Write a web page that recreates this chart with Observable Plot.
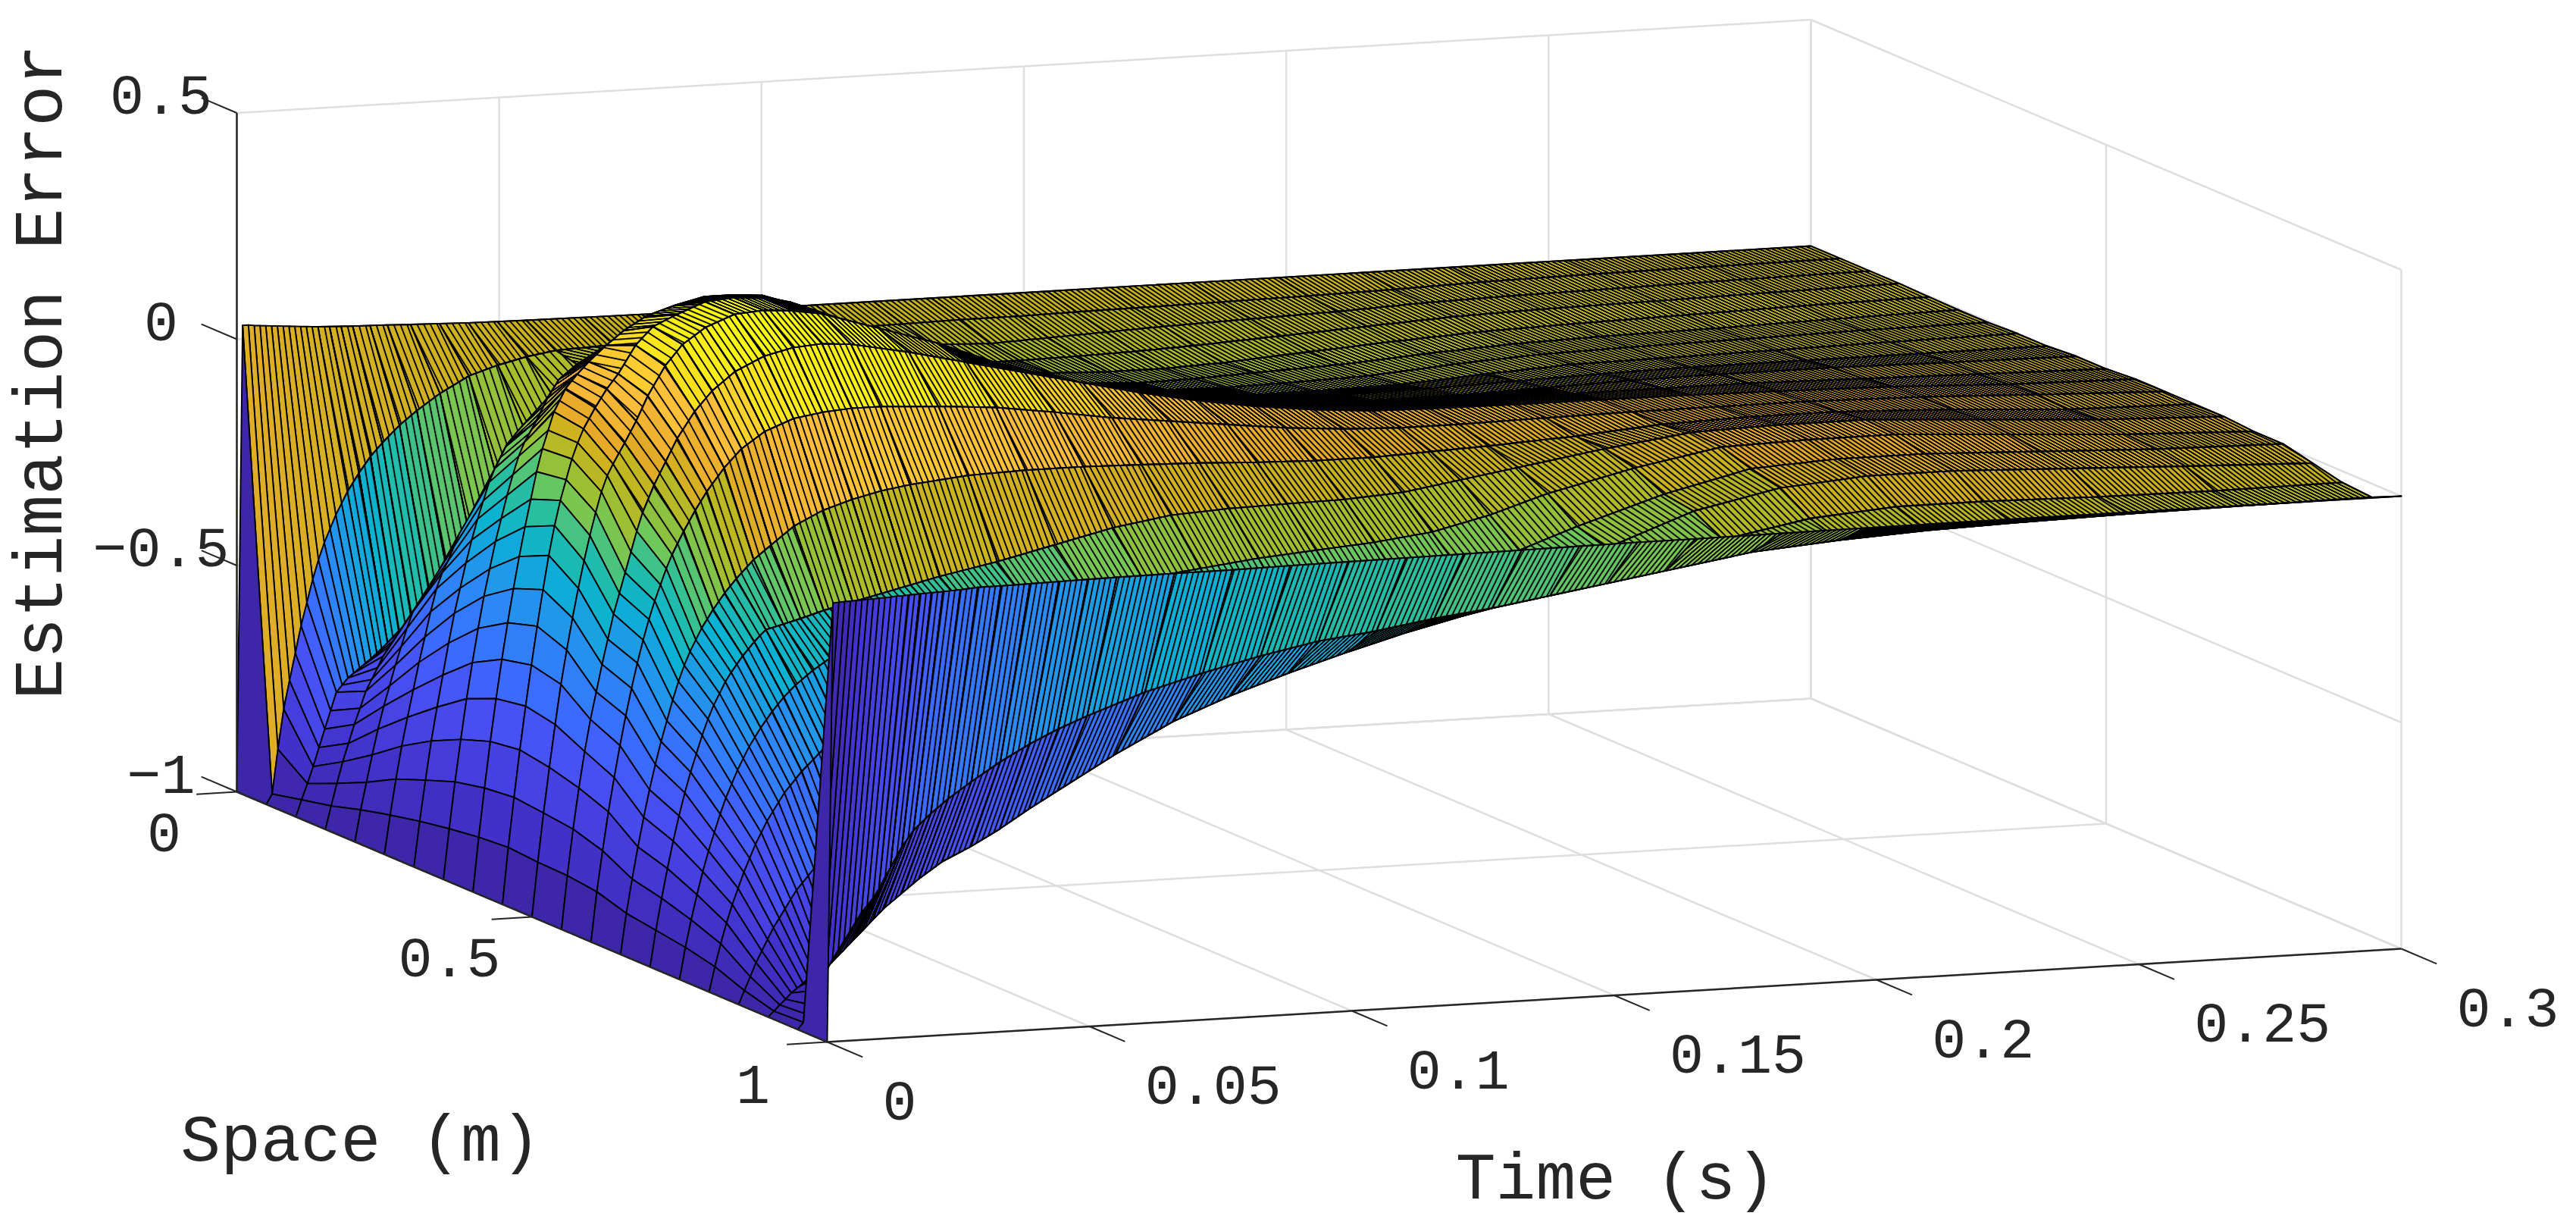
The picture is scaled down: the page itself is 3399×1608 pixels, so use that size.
<!DOCTYPE html>
<html>
<head>
<meta charset="utf-8">
<style>html,body{margin:0;padding:0;background:#fff;overflow:hidden}svg{display:block}</style>
<script src="https://cdn.jsdelivr.net/npm/d3@7"></script>
<script src="https://cdn.jsdelivr.net/npm/@observablehq/plot@0.6"></script>
</head>
<body>
<script>
// Mesh rows: solver step number of each stored time row (one step = 0.0011 s)
const timeSteps = [0,1,2,3,4,5,6,7,8,9,10,11,12,13,14,16,18,20,23,26,30,35,40,45,50,60,70,80,90,100,110,120,130,140,150,165,180,195,210,230,250,272];
const spaceNodes = [0,.05,.1,.15,.2,.25,.3,.35,.4,.45,.5,.55,.6,.65,.7,.75,.8,.85,.9,.95,1];
const stepSeconds = 0.3 / 272;

// Surface height above the floor (estimation error + 1), one list per space node
const h000 = [0,1.03,1.03,1.028,1.027,1.026,1.025,1.024,1.023,1.022,1.021,1.02,1.019,1.018,1.017,1.016,1.015,1.014,1.013,1.012,1.01,1.008,1.006,1.005,1.004,1.003,1.002,1.001,1,1,1,1,1,1,1,1,1,1,1,1,1,1];
const h005 = [0,.022,.12,.208,.27,.33,.39,.44,.49,.533,.57,.6,.63,.655,.68,.72,.755,.783,.82,.85,.885,.92,.94,.955,.965,.97,.975,.975,.975,.977,.978,.98,.98,.982,.983,.985,.987,.99,.995,.998,.999,1];
const h010 = [0,.037,.072,.109,.15,.19,.23,.27,.285,.3,.31,.32,.33,.34,.35,.36,.38,.42,.48,.53,.6,.71,.81,.885,.95,1.01,1.04,1.02,.995,.975,.96,.955,.96,.965,.97,.975,.98,.988,.992,.995,.998,1];
const h015 = [0,.051,.1,.147,.187,.228,.263,.3,.325,.35,.375,.395,.41,.43,.445,.47,.5,.53,.575,.63,.69,.8,.89,.95,1,1.05,1.07,1.05,1.005,.97,.945,.945,.947,.95,.955,.965,.975,.985,.99,.993,.997,1];
const h020 = [0,.07,.13,.19,.246,.296,.34,.385,.425,.465,.5,.52,.54,.555,.57,.6,.63,.67,.72,.77,.85,.93,1.02,1.06,1.09,1.11,1.11,1.07,1.02,.985,.96,.945,.94,.94,.945,.958,.97,.98,.985,.99,.995,.998];
const h025 = [0,.086,.165,.237,.3,.36,.42,.475,.53,.58,.615,.64,.67,.7,.72,.76,.8,.84,.89,.93,.97,1.04,1.09,1.12,1.14,1.17,1.14,1.08,1.03,1,.97,.95,.943,.945,.95,.957,.97,.98,.985,.988,.993,.997];
const h030 = [0,.1,.19,.276,.35,.42,.49,.555,.61,.665,.715,.76,.8,.84,.87,.92,.95,.96,.99,1.03,1.08,1.13,1.16,1.18,1.2,1.215,1.16,1.1,1.05,1.02,.985,.965,.955,.953,.955,.96,.975,.985,.989,.992,.996,.997];
const h035 = [0,.111,.214,.307,.396,.475,.55,.62,.68,.74,.79,.84,.885,.925,.955,1,1.05,1.09,1.12,1.135,1.16,1.19,1.21,1.225,1.235,1.23,1.18,1.12,1.075,1.03,1,.98,.97,.965,.965,.968,.98,.99,.992,.995,.998,1];
const h040 = [0,.12,.228,.33,.424,.51,.59,.665,.735,.8,.86,.92,.97,1.01,1.05,1.1,1.13,1.156,1.19,1.22,1.25,1.27,1.285,1.285,1.28,1.23,1.18,1.13,1.09,1.05,1.02,1,.99,.985,.985,.987,.992,.997,1,1,1,1];
const h045 = [0,.125,.235,.339,.435,.525,.61,.69,.765,.83,.885,.93,.975,1.01,1.04,1.085,1.125,1.157,1.218,1.257,1.28,1.305,1.31,1.305,1.29,1.24,1.19,1.145,1.105,1.07,1.04,1.02,1.005,1,1,1,1.005,1.01,1.012,1.012,1.008,1.005];
const h050 = [0,.12,.228,.328,.422,.51,.585,.655,.72,.78,.835,.885,.93,.965,.99,1.035,1.082,1.136,1.2,1.245,1.28,1.305,1.31,1.305,1.295,1.255,1.215,1.165,1.125,1.09,1.065,1.05,1.03,1.015,1.018,1.02,1.02,1.02,1.02,1.015,1.01,1.005];
const h055 = [0,.118,.22,.31,.39,.46,.52,.58,.635,.69,.735,.78,.825,.87,.91,.97,1.02,1.07,1.127,1.17,1.21,1.24,1.255,1.26,1.255,1.23,1.2,1.17,1.14,1.11,1.085,1.065,1.05,1.04,1.037,1.035,1.034,1.033,1.03,1.025,1.015,1.01];
const h060 = [0,.11,.2,.285,.36,.43,.495,.555,.61,.66,.705,.745,.78,.815,.845,.895,.94,.98,1.03,1.07,1.105,1.13,1.14,1.145,1.145,1.138,1.128,1.11,1.09,1.075,1.06,1.045,1.035,1.03,1.03,1.033,1.035,1.035,1.035,1.03,1.02,1.01];
const h065 = [0,.09,.165,.235,.3,.36,.415,.465,.51,.555,.595,.63,.66,.685,.71,.75,.785,.815,.855,.885,.924,.955,.975,.99,1,1.013,1.017,1.017,1.014,1.01,1.004,1,1,1.005,1.01,1.02,1.035,1.04,1.04,1.03,1.015,1.01];
const h070 = [0,.08,.15,.215,.275,.33,.38,.425,.465,.505,.54,.57,.595,.62,.64,.675,.705,.73,.74,.75,.765,.78,.795,.81,.825,.85,.88,.91,.93,.937,.94,.942,.95,.97,.99,1.02,1.045,1.05,1.05,1.035,1.02,1.01];
const h075 = [0,.07,.13,.185,.235,.28,.32,.36,.395,.425,.455,.48,.505,.525,.545,.58,.61,.635,.665,.69,.71,.735,.75,.765,.775,.79,.805,.825,.84,.855,.865,.875,.89,.92,.96,1.005,1.04,1.045,1.045,1.03,1.015,1.005];
const h080 = [0,.055,.105,.15,.19,.225,.26,.29,.32,.345,.37,.39,.41,.43,.445,.475,.5,.525,.555,.58,.605,.63,.65,.665,.68,.7,.72,.74,.755,.77,.785,.805,.83,.87,.915,.975,1.02,1.03,1.03,1.02,1.01,1.005];
const h085 = [0,.03,.06,.09,.115,.14,.165,.185,.205,.225,.245,.26,.275,.29,.305,.33,.355,.38,.405,.43,.465,.495,.52,.54,.56,.6,.635,.66,.68,.7,.725,.76,.8,.85,.895,.965,1.005,1.02,1.02,1.01,1,.99];
const h090 = [0,.012,.025,.037,.05,.06,.07,.08,.088,.094,.1,.112,.125,.137,.15,.175,.2,.225,.255,.285,.32,.35,.385,.425,.462,.535,.6,.65,.692,.73,.765,.795,.824,.855,.885,.93,.965,.98,.98,.975,.973,.975];
const h095 = [0,.015,.03,.05,.085,.127,.15,.17,.19,.21,.23,.25,.265,.28,.3,.345,.39,.425,.46,.49,.525,.565,.6,.63,.655,.7,.735,.765,.79,.805,.825,.84,.86,.88,.9,.93,.945,.955,.96,.965,.968,.97];
const h100 = [0,.969,.97,.971,.971,.972,.972,.973,.973,.974,.974,.975,.976,.976,.977,.978,.979,.98,.982,.985,.985,.986,.987,.988,.989,.99,.99,.992,.993,.994,.995,.996,.997,.998,.998,.999,1,1,1,1,1,1];
const heights = [h000,h005,h010,h015,h020,h025,h030,h035,h040,h045,h050,h055,h060,h065,h070,h075,h080,h085,h090,h095,h100];

// Axes
const timeTicks = [0,.05,.1,.15,.2,.25,.3];
const timeLabels = ["0","0.05","0.1","0.15","0.2","0.25","0.3"];
const spaceTicks = [0,.5,1];
const spaceLabels = ["0","0.5","1"];
const errorTicks = [-1,-.5,0,.5];
const errorLabels = ["\u22121","\u22120.5","0","0.5"];

// Colour scale
const colorErrors = [-1,-.88,-.77,-.67,-.58,-.45,-.35,-.29,-.2,-.13,-.06,0,.04,.13,.2,.3];
const colorStops = ["#3e26a8","#4230c8","#4642e1","#4852f4","#3c69ff","#2d87f7","#19a0e1","#0ab2d4","#28bea0","#6ec85a","#a5be2d","#c8b41e","#e6aa28","#fdbe3c","#fae11e","#f9fb14"];

// Orthographic view of the MATLAB axes box: pixels per data unit
const X = (t, s) => 312 + 779 * s + 6923.3 * t;
const Y = (t, s, z) => 1044 + 330 * s - 410 * t - 597 * (z + 1);

const color = Plot.scale({color: {type: "linear", domain: colorErrors, range: colorStops, interpolate: "rgb", clamp: true}});
const times = timeSteps.map(n => n * stepSeconds);

// Surface quads, far to near (painter's order)
const lineWidth = 1.9;
const vertices = [];
const hatches = [];
let quadId = 0;
for (let i = timeSteps.length - 2; i >= 0; --i) {
  for (let j = 0; j < spaceNodes.length - 1; ++j) {
    const corners = [[i, j], [i, j + 1], [i + 1, j + 1], [i + 1, j]].map(([a, b]) => ({
      x: X(times[a], spaceNodes[b]),
      y: Y(times[a], spaceNodes[b], heights[b][a] - 1)
    }));
    const fill = color.apply(heights[j][i] - 1);
    const id = quadId++;
    for (const c of corners) vertices.push({...c, id, fill});
    const substeps = timeSteps[i + 1] - timeSteps[i];
    if (substeps > 1) {
      const [a, b, c, d] = corners;
      const ux = ((b.x - a.x) + (c.x - d.x)) / 2, uy = ((b.y - a.y) + (c.y - d.y)) / 2;
      const vx = ((d.x - a.x) + (c.x - b.x)) / 2 / substeps, vy = ((d.y - a.y) + (c.y - b.y)) / 2 / substeps;
      const perp = Math.abs(ux * vy - uy * vx) / Math.hypot(ux, uy);
      const share = Math.min(1, lineWidth / Math.max(perp, 1e-6));
      const name = "mesh" + id;
      hatches.push({name, ux, uy, vx, vy, ox: a.x, oy: a.y, share});
      const hid = quadId++;
      for (const q of corners) vertices.push({...q, id: hid, fill: `url(#${name})`});
    }
  }
}

const link = (rows) => Plot.link(rows, {x1: d => X(d[0], d[1]), y1: d => Y(d[0], d[1], d[2]), x2: d => X(d[3], d[4]), y2: d => Y(d[3], d[4], d[5]), stroke: "#dedede", strokeWidth: 2.5});
const axisLink = (rows, w) => Plot.link(rows, {x1: d => X(d[0], d[1]), y1: d => Y(d[0], d[1], d[2]), x2: d => X(d[3], d[4]), y2: d => Y(d[3], d[4], d[5]), stroke: "#262626", strokeWidth: w});

const font = {fontFamily: "'Liberation Mono', monospace", fill: "#262626"};

const chart = Plot.plot({
  width: 3399, height: 1608, margin: 0,
  x: {domain: [0, 3399], range: [0, 3399], axis: null},
  y: {domain: [0, 1608], range: [0, 1608], axis: null},
  marks: [
    link([
      ...timeTicks.map(t => [t, 0, -1, t, 0, .5]),
      ...errorTicks.map(z => [0, 0, z, .3, 0, z]),
      ...spaceTicks.map(s => [.3, s, -1, .3, s, .5]),
      ...errorTicks.map(z => [.3, 0, z, .3, 1, z]),
      ...timeTicks.map(t => [t, 0, -1, t, 1, -1]),
      ...spaceTicks.map(s => [0, s, -1, .3, s, -1])
    ]),
    Plot.line(vertices, {x: "x", y: "y", z: "id", fill: {value: d => d.fill, scale: null}, stroke: "black", strokeWidth: lineWidth, strokeLinejoin: "round", curve: "linear-closed"}),
    axisLink([[0, 0, -1, 0, 0, .5], [0, 0, -1, 0, 1, -1], [0, 1, -1, .3, 1, -1]], 2.5),
    axisLink([
      ...timeTicks.map(t => [t, 1, -1, t, 1.06, -1]),
      ...spaceTicks.map(s => [0, s, -1, -.0077, s, -1]),
      ...errorTicks.map(z => [0, 0, z, 0, -.06, z])
    ], 2),
    Plot.text(timeLabels, {x: (d, i) => X(timeTicks[i], 1), y: (d, i) => Y(timeTicks[i], 1, -1), text: d => d, dx: 73, dy: 78, textAnchor: "start", fontSize: 75, ...font}),
    Plot.text([spaceLabels[0]], {x: X(0, 0), y: Y(0, 0, -1), text: d => d, dx: -96, dy: 54, fontSize: 75, ...font}),
    Plot.text([spaceLabels[1]], {x: X(0, .5), y: Y(0, .5, -1), text: d => d, dx: -109, dy: 54, fontSize: 75, ...font}),
    Plot.text([spaceLabels[2]], {x: X(0, 1), y: Y(0, 1, -1), text: d => d, dx: -98, dy: 56, fontSize: 75, ...font}),
    Plot.text(errorLabels, {x: X(0, 0), y: (d, i) => Y(0, 0, errorTicks[i]), text: d => d, dx: -100, dy: -23, fontSize: 75, ...font}),
    Plot.text(["Space (m)"], {x: X(0, .5), y: Y(0, .5, -1), text: d => d, dx: -226, dy: 293, fontSize: 88, ...font}),
    Plot.text(["Time (s)"], {x: X(.15, 1), y: Y(.15, 1, -1), text: d => d, dx: 2, dy: 240, fontSize: 88, ...font}),
    Plot.text(["Estimation Error"], {x: X(0, 0), y: Y(0, 0, -.25), text: d => d, dx: -260, dy: -106, rotate: -90, fontSize: 90, ...font})
  ]
});

// Fine time mesh lines between stored rows, as a stripe pattern per quad (stripe centred on each row)
const NS = "http://www.w3.org/2000/svg";
const defs = document.createElementNS(NS, "defs");
for (const h of hatches) {
  const p = document.createElementNS(NS, "pattern");
  p.setAttribute("id", h.name);
  p.setAttribute("patternUnits", "userSpaceOnUse");
  p.setAttribute("width", 1);
  p.setAttribute("height", 1);
  p.setAttribute("patternTransform", `matrix(${h.ux} ${h.uy} ${h.vx} ${h.vy} ${h.ox} ${h.oy})`);
  for (const y of [0, 1 - h.share / 2]) {
    const r = document.createElementNS(NS, "rect");
    r.setAttribute("y", y);
    r.setAttribute("width", 1);
    r.setAttribute("height", h.share / 2);
    r.setAttribute("fill", "black");
    p.appendChild(r);
  }
  defs.appendChild(p);
}
chart.insertBefore(defs, chart.firstChild);
document.body.appendChild(chart);
</script>
</body>
</html>
